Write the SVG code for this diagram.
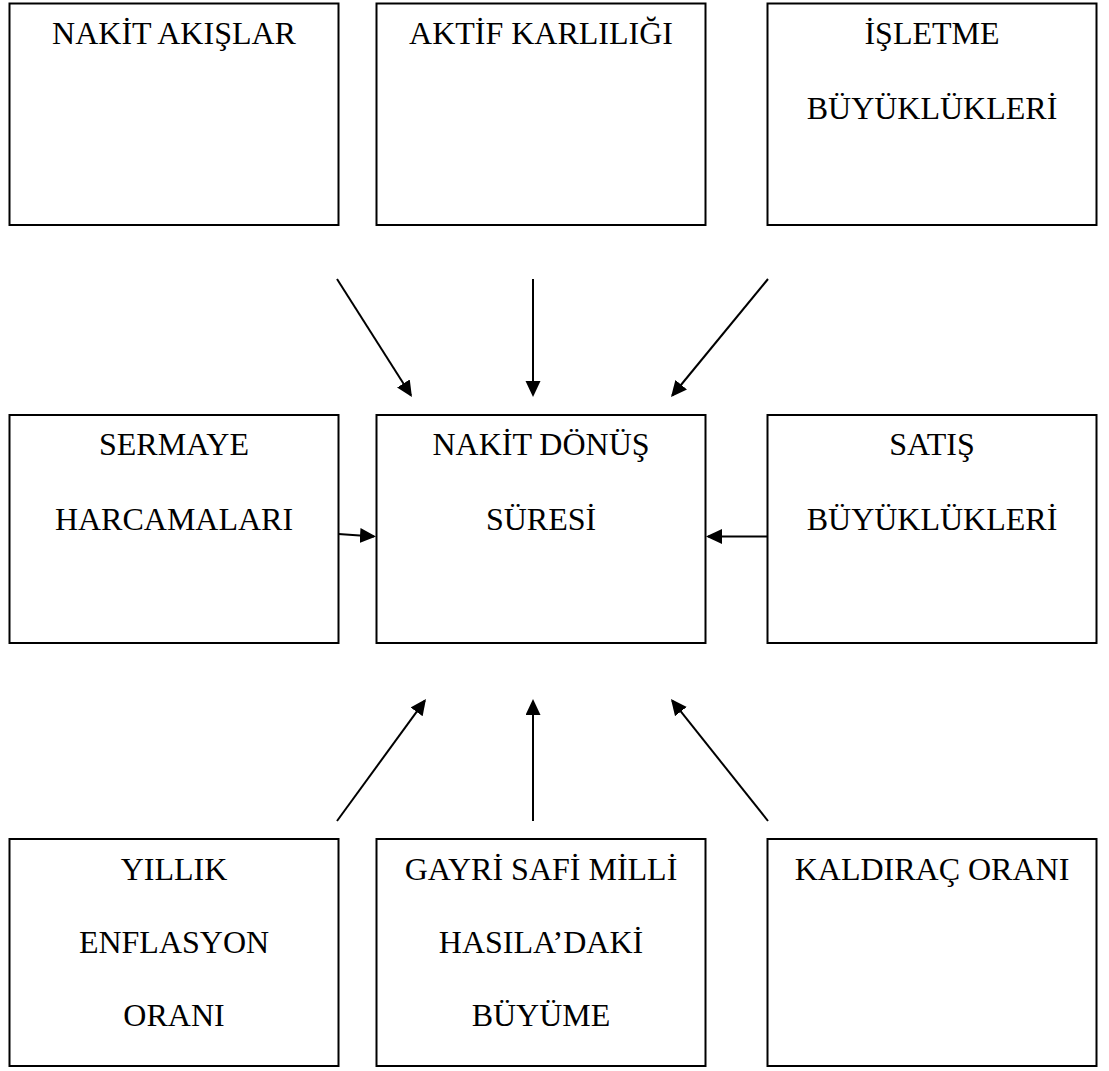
<svg xmlns="http://www.w3.org/2000/svg" width="1109" height="1071" viewBox="0 0 1109 1071">
<style>
.box{fill:#fff;stroke:#000;stroke-width:2}
.t{font-family:"Liberation Serif","Times New Roman",serif;font-size:32px;fill:#000;text-anchor:middle}
.c{stroke:#000;stroke-width:2;fill:none;marker-end:url(#ah)}
</style>
<defs>
<marker id="ah" markerUnits="userSpaceOnUse" markerWidth="18" markerHeight="16" refX="14" refY="7.5" orient="auto">
<path d="M0,0 L16,7.5 L0,15 z" fill="#000"/>
</marker>
</defs>
<rect width="1109" height="1071" fill="#fff"/>
<g id="n-nakit-akislar"><rect class="box" x="9.5" y="3.5" width="329" height="221.5"/><text class="t" x="174" y="44">NAKİT AKIŞLAR</text></g>
<g id="n-aktif-karliligi"><rect class="box" x="376.5" y="3.5" width="329" height="221.5"/><text class="t" x="541" y="44">AKTİF KARLILIĞI</text></g>
<g id="n-isletme"><rect class="box" x="767.5" y="3.5" width="329" height="221.5"/><text class="t" x="932" y="44">İŞLETME</text><text class="t" x="932" y="118.5">BÜYÜKLÜKLERİ</text></g>
<g id="n-sermaye"><rect class="box" x="9.5" y="415" width="329" height="228"/><text class="t" x="174" y="455">SERMAYE</text><text class="t" x="174" y="529.5">HARCAMALARI</text></g>
<g id="n-nakit-donus"><rect class="box" x="376.5" y="415" width="329" height="228"/><text class="t" x="541" y="455">NAKİT DÖNÜŞ</text><text class="t" x="541" y="529.5">SÜRESİ</text></g>
<g id="n-satis"><rect class="box" x="767.5" y="415" width="329" height="228"/><text class="t" x="932" y="455">SATIŞ</text><text class="t" x="932" y="529.5">BÜYÜKLÜKLERİ</text></g>
<g id="n-yillik"><rect class="box" x="9.5" y="839" width="329" height="227"/><text class="t" x="174" y="879.5">YILLIK</text><text class="t" x="174" y="953">ENFLASYON</text><text class="t" x="174" y="1026">ORANI</text></g>
<g id="n-gsmh"><rect class="box" x="376.5" y="839" width="329" height="227"/><text class="t" x="541" y="879.5">GAYRİ SAFİ MİLLİ</text><text class="t" x="541" y="953">HASILA’DAKİ</text><text class="t" x="541" y="1026">BÜYÜME</text></g>
<g id="n-kaldirac"><rect class="box" x="767.5" y="839" width="329" height="227"/><text class="t" x="932" y="879.5">KALDIRAÇ ORANI</text></g>
<g id="connectors">
<line class="c" x1="337" y1="279" x2="410.9" y2="395.3"/>
<line class="c" x1="533" y1="279" x2="533" y2="395"/>
<line class="c" x1="768" y1="279" x2="672.3" y2="395.5"/>
<line class="c" x1="338.5" y1="534" x2="374" y2="536.4"/>
<line class="c" x1="767.5" y1="536.5" x2="708" y2="536.5"/>
<line class="c" x1="337" y1="821" x2="424.8" y2="700.6"/>
<line class="c" x1="533" y1="821" x2="533" y2="701"/>
<line class="c" x1="768" y1="821" x2="672.2" y2="700.6"/>
</g>
</svg>
